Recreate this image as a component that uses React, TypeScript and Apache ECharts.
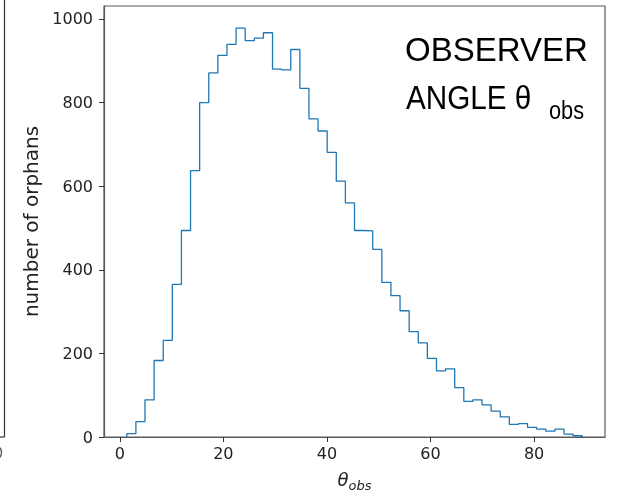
import React, { useEffect, useRef } from "react";
import * as echarts from "echarts";

// Histogram (step) of observer angle, 50 bins
const binStart = 1.35;
const binEnd = 89.3;
const counts = [
  8, 37, 89, 183, 231, 365, 494, 637, 800, 871,
  913, 939, 978, 948, 954, 967, 880, 878, 927, 834,
  761, 732, 681, 612, 560, 494, 493, 449, 370, 338,
  302, 252, 225, 188, 158, 163, 118, 85, 89, 77,
  62, 48, 30, 32, 23, 19, 14, 19, 7, 3,
];
const xTicks = [0, 20, 40, 60, 80];
const yTicks = [0, 200, 400, 600, 800, 1000];
const xRange = [-3.05, 93.7];
const yRange = [0, 1031];
const yLabel = "number of orphans";
const titleLine1 = "OBSERVER";
const titleLine2 = "ANGLE θ";
const titleSub = "obs";

export default function App() {
  const ref = useRef<HTMLDivElement>(null);
  useEffect(() => {
    if (!ref.current) return;
    const chart = echarts.init(ref.current, null, { renderer: "svg" });
    const w = (binEnd - binStart) / counts.length;
    const pts: number[][] = [[binStart, 0]];
    counts.forEach((c, i) => {
      pts.push([binStart + i * w, c]);
      pts.push([binStart + (i + 1) * w, c]);
    });
    pts.push([binEnd, 0]);
    const tickFont = { fontFamily: "DejaVu Sans", fontSize: 16, color: "#222" };
    chart.setOption({
      animation: false,
      grid: {
        left: 104,
        right: 13,
        top: 6,
        bottom: 55,
        show: true,
        borderColor: "#5a5a5a",
        borderWidth: 1.2,
        containLabel: false,
        outerBoundsMode: "none",
      },
      xAxis: {
        type: "value",
        min: xRange[0],
        max: xRange[1],
        splitLine: { show: false },
        axisLine: { show: true, onZero: false, lineStyle: { color: "#5a5a5a", width: 1.2 } },
        axisTick: { show: true, length: 5, customValues: xTicks, lineStyle: { color: "#333" } },
        axisLabel: { ...tickFont, margin: 8, customValues: xTicks, formatter: (v: number) => String(v) },
        name: "{t|θ}{s|obs}",
        nameLocation: "middle",
        nameGap: 33,
        nameTextStyle: {
          rich: {
            t: { fontFamily: "DejaVu Sans", fontStyle: "italic", fontSize: 18, lineHeight: 22, color: "#222", verticalAlign: "top" },
            s: { fontFamily: "DejaVu Sans", fontStyle: "italic", fontSize: 13, lineHeight: 13, color: "#222", verticalAlign: "bottom" },
          },
        },
      },
      yAxis: {
        type: "value",
        min: yRange[0],
        max: yRange[1],
        splitLine: { show: false },
        axisLine: { show: true, onZero: false, lineStyle: { color: "#5a5a5a", width: 1.2 } },
        axisTick: { show: true, length: 5, customValues: yTicks, lineStyle: { color: "#333" } },
        axisLabel: { ...tickFont, margin: 11, customValues: yTicks, formatter: (v: number) => String(v) },
        name: yLabel,
        nameLocation: "middle",
        nameGap: 47,
        nameRotate: 90,
        nameTextStyle: { fontFamily: "DejaVu Sans", fontSize: 20, color: "#222" },
      },
      series: [
        {
          type: "line",
          data: pts,
          showSymbol: false,
          symbol: "none",
          lineStyle: { color: "#1f77b4", width: 1.3 },
        },
      ],
      graphic: [
        { type: "line", shape: { x1: 4.5, y1: 0, x2: 4.5, y2: 437 }, style: { stroke: "#333", lineWidth: 1.2 } },
        { type: "line", shape: { x1: 0, y1: 437, x2: 4.5, y2: 437 }, style: { stroke: "#333", lineWidth: 1.2 } },
        { type: "ellipse", shape: { cx: -3, cy: 452.5, rx: 4.5, ry: 6 }, style: { fill: "none", stroke: "#555", lineWidth: 1.4 } },
        {
          type: "text",
          x: 405,
          y: 33,
          style: { text: titleLine1, fontFamily: "Liberation Sans", fontSize: 33, fill: "#000", align: "left", verticalAlign: "top" },
        },
        {
          type: "text",
          x: 406,
          y: 81.5,
          scaleX: 0.9,
          style: { text: titleLine2, fontFamily: "Liberation Sans", fontSize: 33, fill: "#000", align: "left", verticalAlign: "top" },
        },
        {
          type: "text",
          x: 549,
          y: 97.5,
          scaleX: 0.87,
          style: { text: titleSub, fontFamily: "Liberation Sans", fontSize: 25, fill: "#000", align: "left", verticalAlign: "top" },
        },
      ],
    });
    return () => chart.dispose();
  }, []);
  return <div ref={ref} style={{ position: "fixed", left: 0, top: 0, width: 618, height: 492 }} />;
}
